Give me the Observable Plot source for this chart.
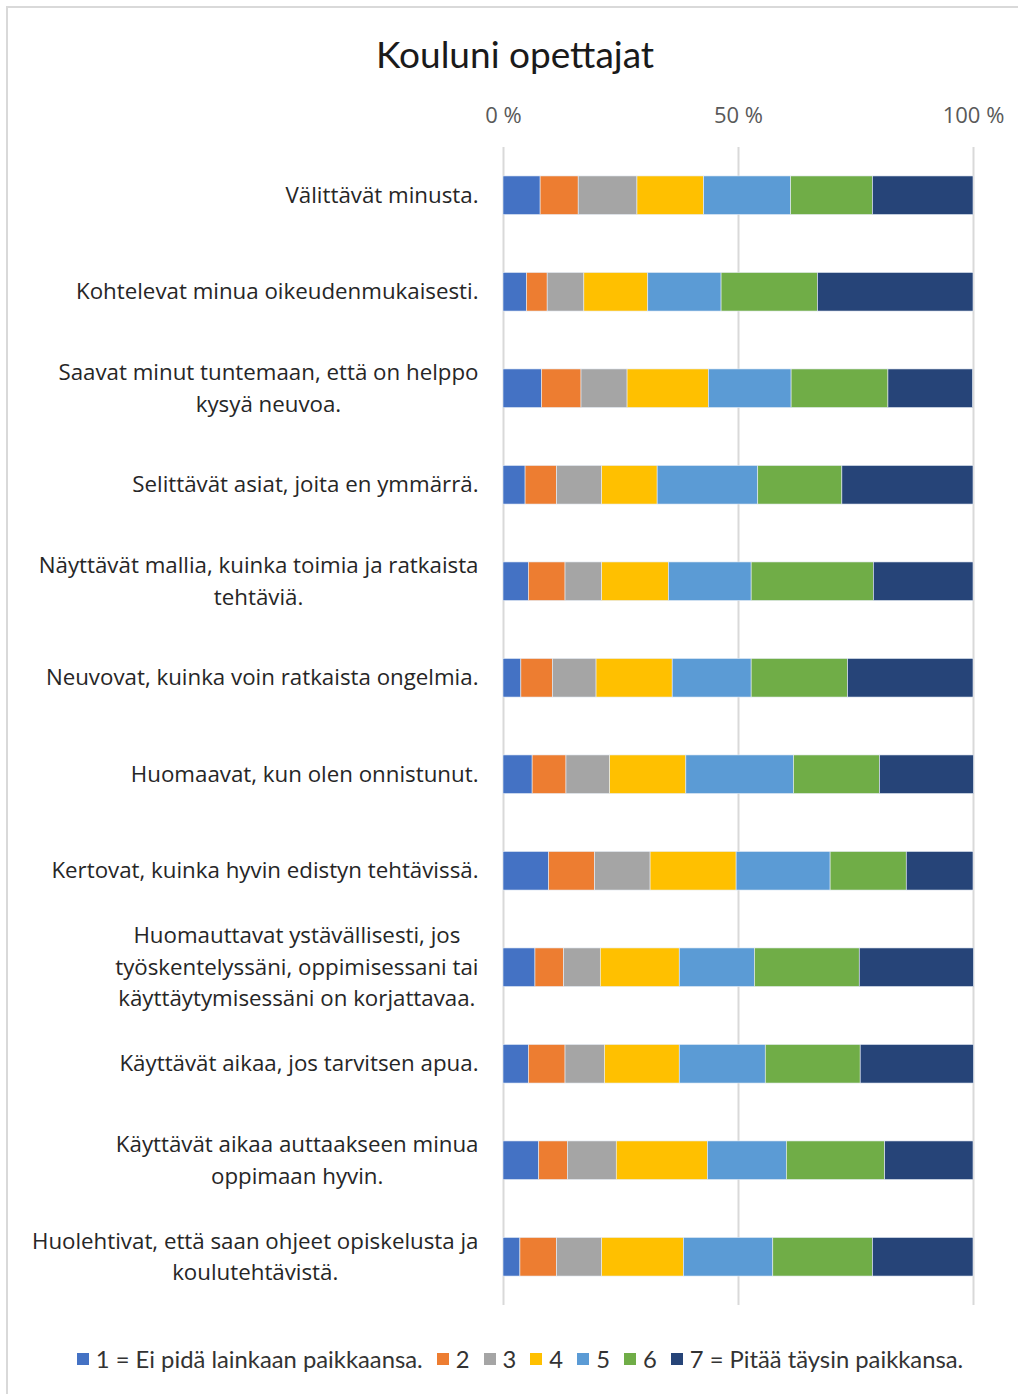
<!DOCTYPE html>
<html><head><meta charset="utf-8">
<script src="https://cdn.jsdelivr.net/npm/d3@7"></script>
<script src="https://cdn.jsdelivr.net/npm/@observablehq/plot@0.6"></script>
<style>
html,body{margin:0;padding:0;background:#fff;}
#wrap{position:relative;width:1018px;height:1394px;overflow:hidden;background:#fff;}
#frame{position:absolute;left:6px;top:6px;width:1100px;height:1500px;border-top:2px solid #d9d9d9;border-left:2px solid #d9d9d9;}
#title{position:absolute;left:12px;width:1006px;top:31px;text-align:center;font-family:Lato,sans-serif;font-size:37px;color:#1a1a1a;}
#chart{position:absolute;left:0;top:0;}
#legend{position:absolute;left:22px;width:996px;top:1345px;display:flex;justify-content:center;align-items:center;font-family:Lato,sans-serif;font-size:23.8px;color:#333;}
.item{display:flex;align-items:center;margin:0 7px;}
.sw{width:12px;height:12px;margin-right:7px;}
</style>
</head><body>
<div id="wrap">
  <div id="frame"></div>
  <div id="title">Kouluni opettajat</div>
  <div id="chart"></div>
  <div id="legend"></div>
</div>
<script>
const statements = [
  "Välittävät minusta.",
  "Kohtelevat minua oikeudenmukaisesti.",
  "Saavat minut tuntemaan, että on helppo\nkysyä neuvoa.",
  "Selittävät asiat, joita en ymmärrä.",
  "Näyttävät mallia, kuinka toimia ja ratkaista\ntehtäviä.",
  "Neuvovat, kuinka voin ratkaista ongelmia.",
  "Huomaavat, kun olen onnistunut.",
  "Kertovat, kuinka hyvin edistyn tehtävissä.",
  "Huomauttavat ystävällisesti, jos\ntyöskentelyssäni, oppimisessani tai\nkäyttäytymisessäni on korjattavaa.",
  "Käyttävät aikaa, jos tarvitsen apua.",
  "Käyttävät aikaa auttaakseen minua\noppimaan hyvin.",
  "Huolehtivat, että saan ohjeet opiskelusta ja\nkoulutehtävistä."
];
const levels = ["1 = Ei pidä lainkaan paikkaansa.", "2", "3", "4", "5", "6", "7 = Pitää täysin paikkansa."];
const colors = ["#4472C4", "#ED7D31", "#A5A5A5", "#FFC000", "#5B9BD5", "#70AD47", "#264478"];

const lvl1 = [7.9, 5.0, 8.2, 4.7, 5.4, 3.8, 6.2, 9.7, 6.8, 5.4, 7.6, 3.6];
const lvl2 = [8.1, 4.4, 8.4, 6.7, 7.8, 6.7, 7.2, 9.8, 6.1, 7.8, 6.1, 7.8];
const lvl3 = [12.5, 7.8, 9.8, 9.6, 7.8, 9.3, 9.3, 11.8, 7.8, 8.4, 10.4, 9.6];
const lvl4 = [14.2, 13.6, 17.3, 11.8, 14.2, 16.2, 16.2, 18.3, 16.8, 15.9, 19.4, 17.4];
const lvl5 = [18.5, 15.6, 17.6, 21.4, 17.6, 16.8, 22.9, 20.0, 16.0, 18.3, 16.8, 19.0];
const lvl6 = [17.4, 20.5, 20.6, 17.9, 26.0, 20.5, 18.3, 16.2, 22.3, 20.2, 20.9, 21.2];
const lvl7 = [21.4, 33.1, 18.0, 27.9, 21.2, 26.7, 20.0, 14.2, 24.3, 24.1, 18.8, 21.4];

const xTicks = [0, 50, 100];

const series = [lvl1, lvl2, lvl3, lvl4, lvl5, lvl6, lvl7];
const data = [];
statements.forEach((s, i) => {
  series.forEach((arr, j) => data.push({statement: s, level: levels[j], value: arr[i]}));
});

const plot = Plot.plot({
  width: 1018,
  height: 1330,
  marginTop: 147,
  marginBottom: 25,
  marginLeft: 503,
  marginRight: 45,
  style: {fontFamily: "'Open Sans', sans-serif", background: "transparent"},
  x: {domain: [0, 100], axis: null},
  y: {domain: statements, paddingInner: 0.6, paddingOuter: 0.3, round: false, axis: null},
  color: {domain: levels, range: colors},
  marks: [
    Plot.gridX(xTicks, {stroke: "#d9d9d9", strokeOpacity: 1, strokeWidth: 2}),
    Plot.barX(data, Plot.stackX({x: "value", y: "statement", fill: "level", order: levels, stroke: "#e8eef7", strokeWidth: 0.6})),
    Plot.axisX(xTicks, {anchor: "top", tickSize: 0, tickPadding: 25, tickFormat: d => d + " %", fontSize: 22, fill: "#595959", label: null}),
    Plot.axisY({tickSize: 0, tickPadding: 25, dy: -3, fontSize: 22.3, lineHeight: 1.41, fill: "#262626", label: null})
  ]
});
document.getElementById("chart").appendChild(plot);

// center multi-line tick labels relative to each other, keeping the block right-aligned
plot.querySelectorAll('g[aria-label="y-axis tick label"] text').forEach(t => {
  const tspans = t.querySelectorAll("tspan");
  if (tspans.length > 1) {
    const w = t.getBBox().width;
    t.setAttribute("text-anchor", "middle");
    const tr = t.getAttribute("transform") || "";
    t.setAttribute("transform", tr + ` translate(${-w / 2},0)`);
  }
});

const legend = document.getElementById("legend");
levels.forEach((l, i) => {
  const item = document.createElement("div");
  item.className = "item";
  const sw = document.createElement("span");
  sw.className = "sw";
  sw.style.background = colors[i];
  const tx = document.createElement("span");
  tx.textContent = l;
  item.appendChild(sw);
  item.appendChild(tx);
  legend.appendChild(item);
});
</script>
</body></html>
